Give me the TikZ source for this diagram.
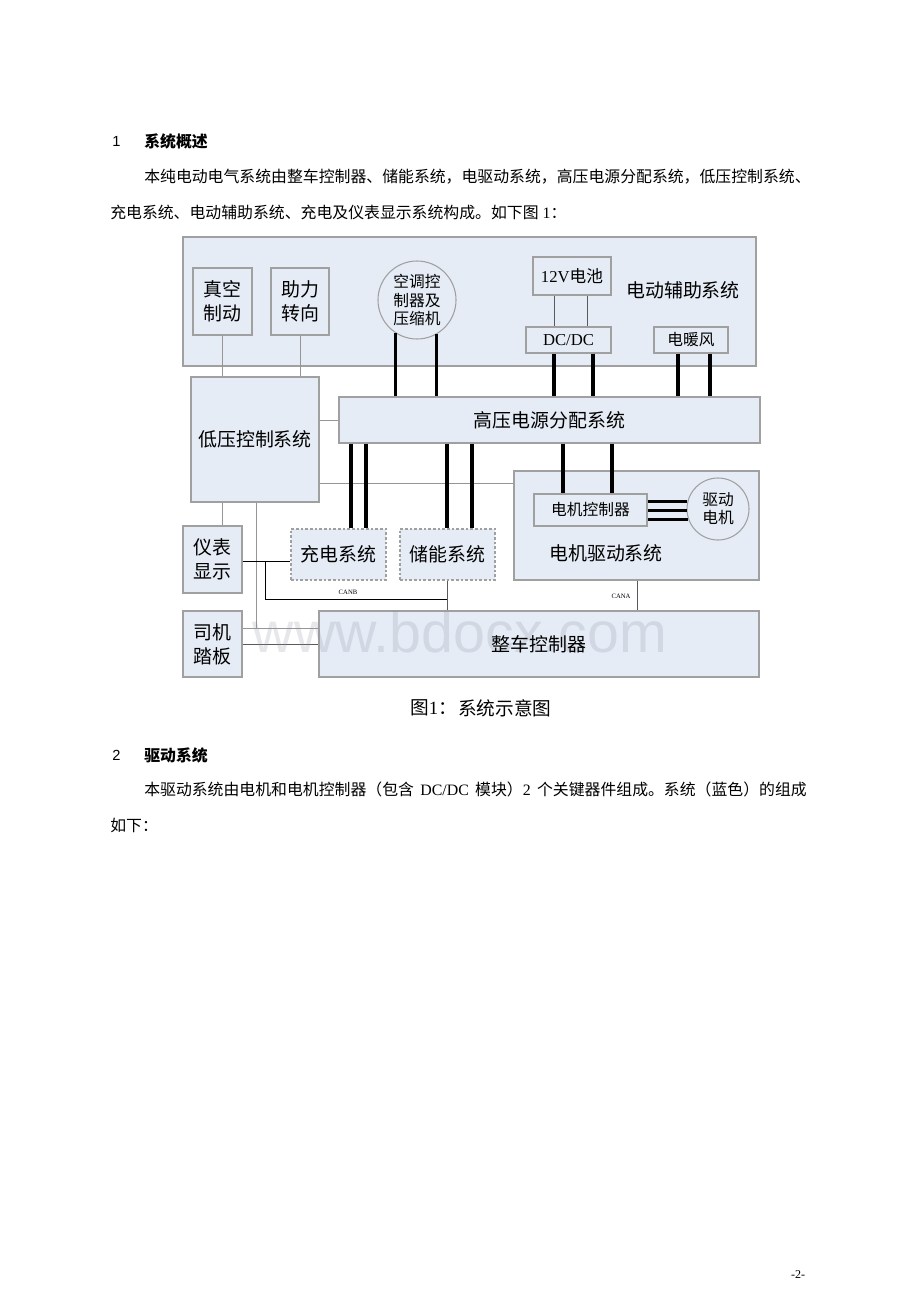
\documentclass[tikz,border=0pt]{standalone}
\usepackage{fontspec}
\setmainfont{Liberation Serif}
\newfontfamily\cjk{Noto Sans CJK SC}
\newfontfamily\arialf{Liberation Sans}
\usetikzlibrary{fit}
\definecolor{bfill}{RGB}{230,236,246}
\definecolor{bgray}{RGB}{160,160,160}
\definecolor{lgray}{RGB}{150,150,150}
\definecolor{dgray}{RGB}{90,90,90}
\definecolor{wmc}{RGB}{140,148,160}
\newcommand\mkbox[6]{\node[#1, fit={(#3,#4) (#5,#6)}] (#2) {};}
\begin{document}
\begin{tikzpicture}[x=0.75pt,y=-0.75pt,
 bx/.style={draw=bgray, fill=bfill, line width=0.8pt, inner sep=0pt},
 dbx/.style={bx, dash pattern=on 2pt off 1.5pt},
 sbig/.style={font=\cjk\fontsize{14.2}{18}\selectfont, align=center, inner sep=0pt},
 smid/.style={font=\cjk\fontsize{11.8}{13.6}\selectfont, align=center, inner sep=0pt},
 sser/.style={font=\rmfamily\fontsize{12.5}{15}\selectfont, inner sep=0pt},
 sbody/.style={font=\cjk\fontsize{11.9}{14}\selectfont, inner sep=0pt, anchor=west},
 shv/.style={line width=2.3pt, black},
 sln/.style={line width=0.75pt, lgray},
 sdk/.style={line width=0.75pt, dgray},
 sbl/.style={line width=0.75pt, black},
 stiny/.style={font=\rmfamily\fontsize{5}{6}\selectfont, inner sep=0pt},
]
\fill[white] (0,0) rectangle (920,1302);
\useasboundingbox (0,0) rectangle (920,1302);

% ---- text above
\node[sbody, font=\arialf\fontsize{11}{13}\selectfont] (n1) at (112,141) {1};
\node[sbody, font=\cjk\bfseries\fontsize{11.9}{14}\selectfont] (h1) at (144,141) {系统概述};
\node[sbody] (p1) at (144,177) {本纯电动电气系统由整车控制器、储能系统，电驱动系统，高压电源分配系统，低压控制系统、};
\node[sbody] (p2) at (110,212) {充电系统、电动辅助系统、充电及仪表显示系统构成。如下图{\rmfamily\ 1}：};

% ---- boxes
\mkbox{bx}{aux}{183}{237}{756}{366}
\mkbox{bx}{zk}{193}{268}{252}{335}
\mkbox{bx}{zl}{271}{268}{329}{335}
\node[bx, circle, minimum size=58.5pt] (ac) at (417,300) {};
\mkbox{bx}{bat}{533}{257}{611}{295}
\mkbox{bx}{dcdc}{526}{327}{611}{353}
\mkbox{bx}{heat}{654}{327}{728}{353}
\mkbox{bx}{dy}{191}{377}{319}{502}
\mkbox{bx}{hvb}{339}{397}{760}{443}
\mkbox{bx}{dj}{514}{471}{759}{580}
\mkbox{bx}{ctrl}{534}{494}{647}{526}
\node[bx, circle, minimum size=46.5pt] (motor) at (718,509) {};
\mkbox{dbx}{cd}{291}{529}{386}{580}
\mkbox{dbx}{cn}{400}{529}{495}{580}
\mkbox{bx}{yb}{183}{526}{242}{593}
\mkbox{bx}{sj}{183}{611}{242}{677}
\mkbox{bx}{zc}{319}{611}{759}{677}

% ---- thin connectors
\draw[sln] (zk.south) -- (zk.south |- dy.north);
\draw[sln] (zl.south) -- (zl.south |- dy.north);
\draw[sln] (hvb.west -| dy.east) -- (hvb.west);
\draw[sln] (dy.east |- 0,483) -- (dj.west |- 0,483);
\draw[sln] (dy.south -| zk.south) -- (yb.north -| zk.south);
\coordinate (jL) at (256,628);
\draw[sln] (dy.south -| jL) -- (jL) -- (zc.west |- jL);
\draw[sln] (sj.east |- jL) -- (jL);
\draw[sdk] (sj.east |- 0,644) -- (zc.west |- 0,644);
\draw[sdk] (bat.south -| 554,0) -- (dcdc.north -| 554,0);
\draw[sdk] (bat.south -| 587,0) -- (dcdc.north -| 587,0);

% ---- CAN lines
\coordinate (jB) at (265,561);
\coordinate (jC) at (265,599);
\coordinate (jD) at (447,599);
\draw[sbl] (yb.east |- jB) -- (cd.west |- jB);
\draw[sbl] (jB) -- (jC) -- (jD);
\draw[sdk] (cn.south -| jD) -- (zc.north -| jD);
\node[stiny] (canb) at (348,592) {CANB};
\draw[sdk] (dj.south -| 637,0) -- (zc.north -| 637,0);
\node[stiny] (cana) at (621,596) {CANA};

% ---- thick power lines
\draw[shv] (ac.237.4) -- (hvb.north -| ac.237.4);
\draw[shv] (ac.300.9) -- (hvb.north -| ac.300.9);
\draw[shv] (dcdc.south -| 554,0) -- (hvb.north -| 554,0);
\draw[shv] (dcdc.south -| 593,0) -- (hvb.north -| 593,0);
\draw[shv] (heat.south -| 678,0) -- (hvb.north -| 678,0);
\draw[shv] (heat.south -| 710,0) -- (hvb.north -| 710,0);
\draw[shv] (hvb.south -| 351,0) -- (cd.north -| 351,0);
\draw[shv] (hvb.south -| 366,0) -- (cd.north -| 366,0);
\draw[shv] (hvb.south -| 447,0) -- (cn.north -| 447,0);
\draw[shv] (hvb.south -| 472,0) -- (cn.north -| 472,0);
\draw[shv] (hvb.south -| 563,0) -- (ctrl.north -| 563,0);
\draw[shv] (hvb.south -| 612,0) -- (ctrl.north -| 612,0);
\draw[shv, line width=2pt] (ctrl.east |- motor.166.95) -- (motor.166.95);
\draw[shv, line width=2pt] (ctrl.east |- motor.183.7) -- (motor.183.7);
\draw[shv, line width=2pt] (ctrl.east |- motor.200.8) -- (motor.200.8);

% ---- watermark (behind the labels)
\node[font=\arialf\fontsize{43}{50}\selectfont, text=wmc, opacity=0.22, anchor=base, inner sep=0pt] (wm) at (460,652) {www.bdocx.com};

% ---- labels
\node[sbig] (zkl) at (zk.center) {真空\\制动};
\node[sbig] (zll) at (zl.center) {助力\\转向};
\node[smid] (acl) at (ac.center) {空调控\\制器及\\压缩机};
\node[sser] (batl) at (bat.center) {12V{\cjk 电池}};
\node[sser] (dcdcl) at (dcdc.center) {DC/DC};
\node[smid] (heatl) at (heat.center) {电暖风};
\node[sbig] (auxl) at (683,290) {电动辅助系统};
\node[sbig] (dyl) at (dy.center) {低压控制系统};
\node[sbig] (hvbl) at (hvb.center) {高压电源分配系统};
\node[sbig] (djl) at (606,553) {电机驱动系统};
\node[smid] (ctrll) at (ctrl.center) {电机控制器};
\node[smid] (motorl) at (motor.center) {驱动\\电机};
\node[sbig] (cdl) at (cd.center) {充电系统};
\node[sbig] (cnl) at (cn.center) {储能系统};
\node[sbig] (ybl) at (yb.center) {仪表\\显示};
\node[sbig] (sjl) at (sj.center) {司机\\踏板};
\node[sbig] (zcl) at (zc.center) {整车控制器};

% ---- caption and text below
\node[sbody, font=\cjk\fontsize{14}{16}\selectfont] (cap1) at (410,708) {图{\rmfamily 1}：};
\node[sbody, font=\cjk\fontsize{14}{16}\selectfont] (cap2) at (458,708) {系统示意图};
\node[sbody, font=\arialf\fontsize{11}{13}\selectfont] (n2) at (112,755) {2};
\node[sbody, font=\cjk\bfseries\fontsize{11.9}{14}\selectfont] (h2) at (144,755) {驱动系统};
\node[sbody] (p3) at (144,789) {本驱动系统由电机和电机控制器（包含{\rmfamily\hspace{0.4em}DC/DC\hspace{0.4em}}模块）{\rmfamily 2\hspace{0.4em}}个关键器件组成。系统（蓝色）的组成};
\node[sbody] (p4) at (110,825) {如下：};
\node[font=\rmfamily\fontsize{9}{11}\selectfont, inner sep=0pt] (pg) at (798,1275) {-2-};
\end{tikzpicture}
\end{document}
